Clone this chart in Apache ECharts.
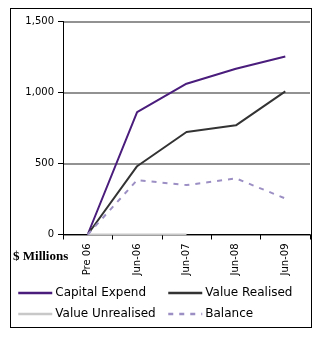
<!DOCTYPE html>
<html>
<head>
<meta charset="utf-8">
<script src="https://cdn.jsdelivr.net/npm/echarts@6/dist/echarts.min.js"></script>
<style>
  html, body { margin: 0; padding: 0; background: #fff; }
  #frame { position: absolute; left: 10px; top: 8px; width: 302px; height: 320px; border: 1px solid #000; box-sizing: border-box; }
  #chart { position: absolute; left: 0; top: 0; width: 321px; height: 340px; }
</style>
</head>
<body>
<div id="frame"></div>
<div id="chart"></div>
<script>
// Period labels along the x axis
const periods = ['Pre 06', 'Jun-06', 'Jun-07', 'Jun-08', 'Jun-09'];

// $ millions per period
const capitalExpend = [0, 862, 1062, 1167, 1253];
const valueRealised = [0, 481, 722, 769, 1008];
const valueUnrealised = [0, 0, 0, null, null];
const balance = [0, 383, 348, 395, 254];

const sansFont = 'DejaVu Sans';

const seriesDefs = [
  { name: 'Capital Expend', data: capitalExpend, color: '#4a1c7c', type: 'solid' },
  { name: 'Value Realised', data: valueRealised, color: '#333333', type: 'solid' },
  { name: 'Value Unrealised', data: valueUnrealised, color: '#c8c8c8', type: 'solid' },
  { name: 'Balance', data: balance, color: '#9c8fc4', type: [5, 6] }
];

const legendSpots = [
  { left: 17, top: 287 },
  { left: 167, top: 287 },
  { left: 17, top: 308 },
  { left: 167, top: 308 }
];

const chart = echarts.init(document.getElementById('chart'), null, { renderer: 'canvas' });

chart.setOption({
  animation: false,
  grid: { left: 63, right: 11, top: 21.5, bottom: 105.5 },
  xAxis: {
    type: 'category',
    data: periods,
    boundaryGap: true,
    axisLine: { lineStyle: { color: '#000', width: 1 } },
    axisTick: { show: true, inside: false, length: 5, lineStyle: { color: '#000' } },
    axisLabel: { rotate: 90, margin: 9, fontFamily: sansFont, fontSize: 10, color: '#000' },
    splitLine: { show: false }
  },
  yAxis: {
    type: 'value',
    min: 0,
    max: 1500,
    interval: 500,
    axisLine: { show: true, lineStyle: { color: '#000', width: 1 } },
    axisTick: { show: true, inside: false, length: 5, lineStyle: { color: '#000' } },
    axisLabel: {
      margin: 9,
      fontFamily: sansFont,
      fontSize: 10,
      color: '#000',
      formatter: v => v.toLocaleString('en-US')
    },
    splitLine: { show: true, lineStyle: { color: '#6e6e6e', width: 1.5 } }
  },
  legend: seriesDefs.map((s, i) => ({
    data: [s.name],
    left: legendSpots[i].left,
    top: legendSpots[i].top,
    itemWidth: 34,
    itemHeight: 12,
    itemGap: 4,
    padding: 0,
    itemStyle: { opacity: 0 },
    lineStyle: { width: 2.5 },
    textStyle: { fontFamily: sansFont, fontSize: 12, color: '#000', padding: [0, 0, 0, -2] }
  })),
  graphic: [
    {
      type: 'text',
      left: 13,
      top: 250,
      style: {
        text: '$ Millions',
        font: 'bold 13px "Liberation Serif", "Times New Roman", serif',
        fill: '#000'
      }
    }
  ],
  series: seriesDefs.map(s => ({
    name: s.name,
    type: 'line',
    data: s.data,
    symbol: 'none',
    connectNulls: false,
    z: 3,
    lineStyle: { color: s.color, width: 2, type: s.type },
    itemStyle: { color: s.color }
  }))
});
</script>
</body>
</html>
